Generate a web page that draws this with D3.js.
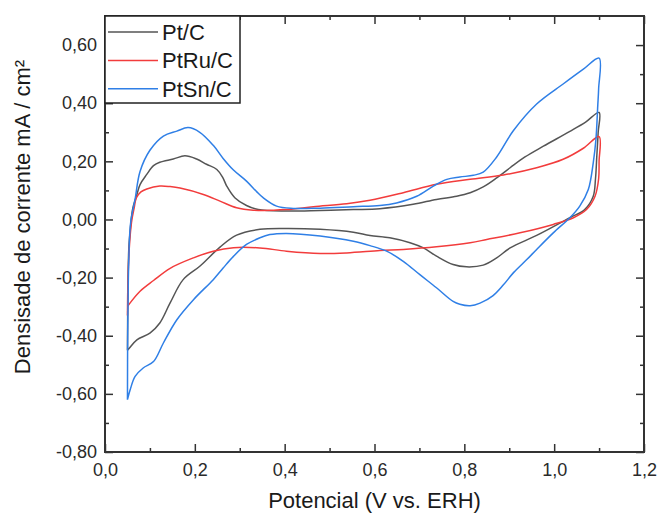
<!DOCTYPE html>
<html>
<head>
<meta charset="utf-8">
<script src="https://cdn.jsdelivr.net/npm/d3@7"></script>
<style>
  body { margin: 0; background: #fff; }
  svg text { font-family: "Liberation Sans", Arial, sans-serif; }
</style>
</head>
<body>
<div id="chart"></div>
<script>
// potential (V vs. ERH), current density (mA/cm2)
const ptcAnodic = [[0.05,-0.45],[0.051,-0.25],[0.053,-0.1],[0.056,-0.04],[0.062,0.04],[0.07,0.08],[0.078,0.12],[0.093,0.155],[0.108,0.185],[0.122,0.197],[0.152,0.208],[0.178,0.219],[0.204,0.208],[0.226,0.19],[0.249,0.172],[0.262,0.145],[0.271,0.115],[0.289,0.075],[0.315,0.048],[0.341,0.034],[0.404,0.029],[0.479,0.031],[0.553,0.034],[0.612,0.037],[0.686,0.052],[0.738,0.069],[0.783,0.080],[0.813,0.092],[0.842,0.112],[0.872,0.143],[0.902,0.178],[0.935,0.215],[0.976,0.252],[1.035,0.303],[1.07,0.335],[1.1,0.368]];
const ptcCathodic = [[1.098,0.30],[1.095,0.22],[1.092,0.14],[1.087,0.08],[1.068,0.034],[1.035,0.006],[0.961,-0.055],[0.902,-0.098],[0.872,-0.132],[0.842,-0.157],[0.805,-0.163],[0.775,-0.155],[0.738,-0.126],[0.709,-0.098],[0.679,-0.080],[0.634,-0.063],[0.59,-0.055],[0.553,-0.044],[0.479,-0.034],[0.404,-0.031],[0.345,-0.034],[0.293,-0.054],[0.256,-0.095],[0.211,-0.161],[0.174,-0.207],[0.145,-0.287],[0.122,-0.356],[0.1,-0.391],[0.071,-0.414],[0.054,-0.443],[0.05,-0.45]];

const ptruAnodic = [[0.05,-0.33],[0.051,-0.22],[0.054,-0.1],[0.059,-0.01],[0.065,0.04],[0.07,0.075],[0.08,0.095],[0.093,0.105],[0.122,0.115],[0.145,0.113],[0.167,0.108],[0.219,0.086],[0.256,0.063],[0.293,0.040],[0.33,0.032],[0.404,0.034],[0.464,0.044],[0.538,0.054],[0.59,0.066],[0.664,0.092],[0.738,0.121],[0.813,0.138],[0.887,0.153],[0.961,0.178],[1.02,0.207],[1.065,0.245],[1.1,0.285]];
const ptruCathodic = [[1.1,0.2],[1.099,0.14],[1.091,0.08],[1.072,0.034],[1.043,0.006],[0.998,-0.017],[0.924,-0.046],[0.85,-0.069],[0.813,-0.080],[0.738,-0.094],[0.664,-0.103],[0.612,-0.107],[0.538,-0.115],[0.479,-0.117],[0.404,-0.109],[0.345,-0.098],[0.286,-0.097],[0.241,-0.109],[0.197,-0.132],[0.145,-0.168],[0.108,-0.21],[0.078,-0.247],[0.056,-0.287],[0.05,-0.30]];

const ptsnAnodic = [[0.05,-0.62],[0.0505,-0.4],[0.052,-0.2],[0.055,-0.05],[0.058,0.0],[0.063,0.04],[0.067,0.07],[0.078,0.165],[0.1,0.238],[0.13,0.287],[0.16,0.304],[0.185,0.316],[0.211,0.3],[0.241,0.255],[0.263,0.21],[0.286,0.17],[0.315,0.132],[0.338,0.095],[0.352,0.075],[0.382,0.046],[0.419,0.038],[0.479,0.039],[0.553,0.044],[0.612,0.048],[0.649,0.057],[0.694,0.080],[0.731,0.115],[0.761,0.138],[0.79,0.146],[0.82,0.152],[0.842,0.163],[0.872,0.215],[0.909,0.305],[0.961,0.397],[1.02,0.466],[1.065,0.517],[1.1,0.555]];
const ptsnCathodic = [[1.099,0.45],[1.097,0.39],[1.093,0.276],[1.087,0.195],[1.076,0.103],[1.057,0.046],[1.035,0.006],[0.998,-0.046],[0.961,-0.103],[0.939,-0.138],[0.91,-0.182],[0.887,-0.225],[0.864,-0.262],[0.835,-0.288],[0.813,-0.297],[0.79,-0.292],[0.775,-0.282],[0.738,-0.235],[0.701,-0.19],[0.664,-0.144],[0.627,-0.109],[0.59,-0.09],[0.553,-0.075],[0.479,-0.057],[0.404,-0.048],[0.367,-0.052],[0.345,-0.063],[0.315,-0.086],[0.286,-0.127],[0.263,-0.167],[0.241,-0.207],[0.197,-0.276],[0.16,-0.345],[0.13,-0.425],[0.108,-0.489],[0.085,-0.511],[0.067,-0.54],[0.056,-0.586],[0.05,-0.62]];

const seriesNames = ["Pt/C", "PtRu/C", "PtSn/C"];
const seriesColors = ["#555555", "#f23c3c", "#2f7fe6"];
const seriesData = [
  ptcAnodic.concat(ptcCathodic),
  ptruAnodic.concat(ptruCathodic),
  ptsnAnodic.concat(ptsnCathodic)
];

const xTicks = [0, 0.2, 0.4, 0.6, 0.8, 1.0, 1.2];
const xMinor = [0.1, 0.3, 0.5, 0.7, 0.9, 1.1];
const yTicks = [-0.8, -0.6, -0.4, -0.2, 0, 0.2, 0.4, 0.6];
const yMinor = [-0.7, -0.5, -0.3, -0.1, 0.1, 0.3, 0.5];

const width = 657, height = 513;
const margin = { top: 16, right: 13, bottom: 61, left: 105 };
const iW = width - margin.left - margin.right;
const iH = height - margin.top - margin.bottom;

const root = d3.select("#chart").append("svg")
  .attr("width", width)
  .attr("height", height);

const svg = root.append("g")
  .attr("transform", `translate(${margin.left},${margin.top})`);

const x = d3.scaleLinear().domain([0, 1.2]).range([0, iW]);
const y = d3.scaleLinear().domain([-0.8, 0.7]).range([iH, 0]);

const fmtX = d => d.toFixed(1).replace(".", ",");
const fmtY = d => d.toFixed(2).replace(".", ",");
const axisColor = "#333";

function styleAxis(g) {
  g.select(".domain").remove();
  g.selectAll("line").style("stroke", axisColor).style("stroke-width", 1.5);
  g.selectAll("text").style("fill", "#2a2a2a").style("font-size", "18px");
}

// curves
const line = d3.line()
  .x(d => x(d[0]))
  .y(d => y(d[1]))
  .curve(d3.curveCatmullRom.alpha(0.5));

svg.selectAll("path.cv")
  .data(seriesData)
  .join("path")
  .attr("class", "cv")
  .attr("d", line)
  .style("fill", "none")
  .style("stroke", (d, i) => seriesColors[i])
  .style("stroke-width", 1.5);

// bottom
svg.append("g").attr("transform", `translate(0,${iH})`)
  .call(d3.axisBottom(x).tickValues(xTicks).tickFormat(fmtX).tickSize(-8).tickSizeOuter(0).tickPadding(11))
  .call(styleAxis);
svg.append("g").attr("transform", `translate(0,${iH})`)
  .call(d3.axisBottom(x).tickValues(xMinor).tickFormat("").tickSize(-4).tickSizeOuter(0))
  .call(styleAxis);
// top
svg.append("g")
  .call(d3.axisTop(x).tickValues(xTicks).tickFormat("").tickSize(-8).tickSizeOuter(0))
  .call(styleAxis);
svg.append("g")
  .call(d3.axisTop(x).tickValues(xMinor).tickFormat("").tickSize(-4).tickSizeOuter(0))
  .call(styleAxis);
// left
svg.append("g")
  .call(d3.axisLeft(y).tickValues(yTicks).tickFormat(fmtY).tickSize(-8).tickSizeOuter(0).tickPadding(8))
  .call(styleAxis);
svg.append("g")
  .call(d3.axisLeft(y).tickValues(yMinor).tickFormat("").tickSize(-4).tickSizeOuter(0))
  .call(styleAxis);
// right
svg.append("g").attr("transform", `translate(${iW},0)`)
  .call(d3.axisRight(y).tickValues(yTicks).tickFormat("").tickSize(-8).tickSizeOuter(0))
  .call(styleAxis);
svg.append("g").attr("transform", `translate(${iW},0)`)
  .call(d3.axisRight(y).tickValues(yMinor).tickFormat("").tickSize(-4).tickSizeOuter(0))
  .call(styleAxis);

svg.append("rect")
  .attr("x", 0).attr("y", 0)
  .attr("width", iW).attr("height", iH)
  .style("fill", "none")
  .style("stroke", axisColor)
  .style("stroke-width", 2);

// axis titles
svg.append("text")
  .attr("x", (x(0) + x(1.2)) / 2)
  .attr("y", iH + 56)
  .style("text-anchor", "middle")
  .style("font-size", "22px")
  .style("fill", "#1a1a1a")
  .text("Potencial (V vs. ERH)");

svg.append("text")
  .attr("transform", "rotate(-90)")
  .attr("x", -(217 - margin.top))
  .attr("y", -75)
  .style("text-anchor", "middle")
  .style("font-size", "22px")
  .style("fill", "#1a1a1a")
  .text("Densisade de corrente mA / cm²");

// legend
const legend = svg.append("g");
legend.append("rect")
  .attr("x", 0).attr("y", 0)
  .attr("width", 135).attr("height", 87)
  .style("fill", "#fff")
  .style("stroke", "#222")
  .style("stroke-width", 1.5);

seriesNames.forEach((name, i) => {
  const cy = 16 + i * 28.4;
  legend.append("line")
    .attr("x1", 3).attr("x2", 53)
    .attr("y1", cy).attr("y2", cy)
    .style("stroke", seriesColors[i])
    .style("stroke-width", 1.5);
  legend.append("text")
    .attr("x", 57)
    .attr("y", cy + 8)
    .style("font-size", "22px")
    .style("fill", "#1a1a1a")
    .text(name);
});
</script>
</body>
</html>
